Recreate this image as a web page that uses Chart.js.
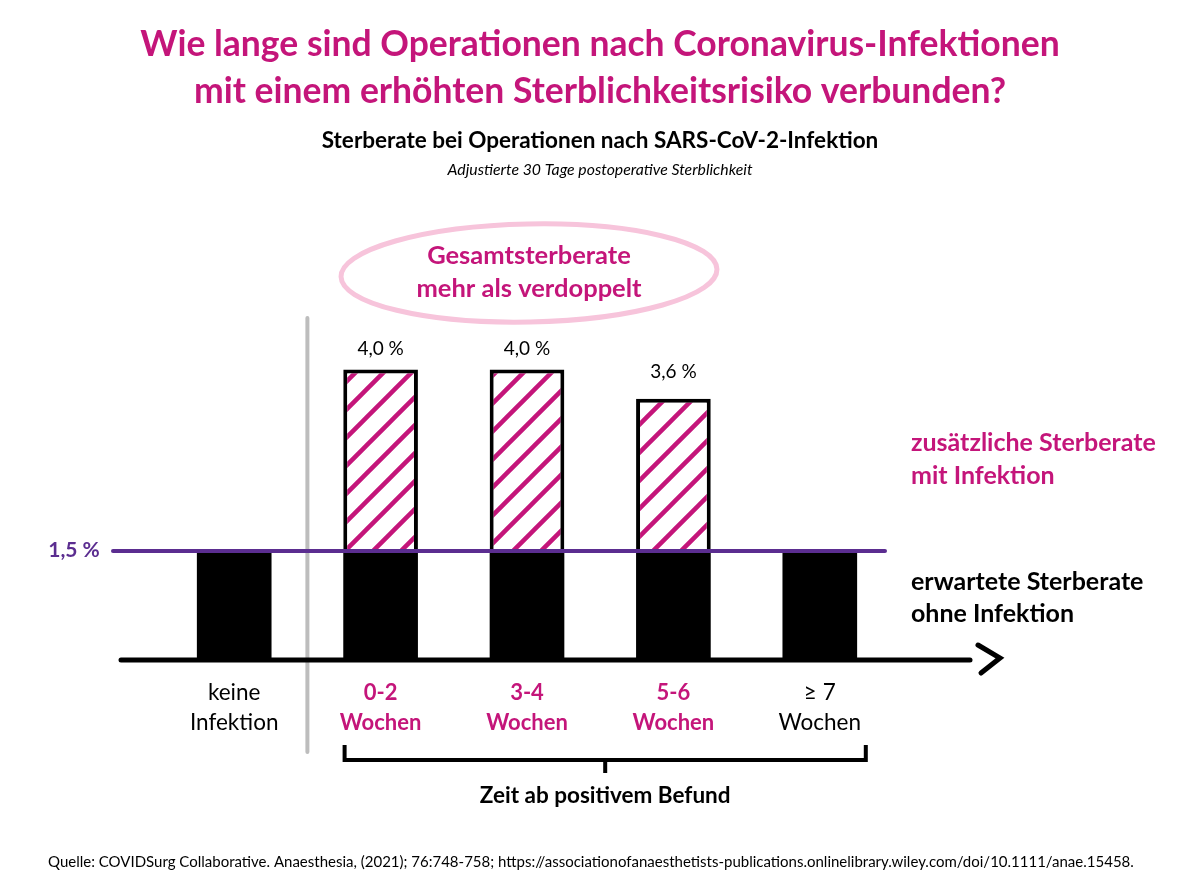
<!DOCTYPE html>
<html lang="de">
<head>
<meta charset="utf-8">
<title>Sterberate bei Operationen nach SARS-CoV-2-Infektion</title>
<script src="https://cdn.jsdelivr.net/npm/chart.js@4.4.1/dist/chart.umd.min.js"></script>
<style>
  html, body { margin: 0; background: #fff; }
  #wrap { width: 1200px; height: 891px; position: relative; }
</style>
</head>
<body>
<div id="wrap"><canvas id="chart"></canvas></div>
<script>
const categories = [['keine', 'Infektion'], ['0-2', 'Wochen'], ['3-4', 'Wochen'], ['5-6', 'Wochen'], ['≥ 7', 'Wochen']]
const highlighted = [false, true, true, true, false]
// erwartete Sterberate ohne Infektion (%)
const expectedRate = [1.5, 1.5, 1.5, 1.5, 1.5]
// zusätzliche Sterberate mit Infektion (%)
const extraRate = [null, 2.5, 2.5, 2.1, null]
const baselineLabel = '1,5 %'

const MAGENTA = '#c4157a'
const PURPLE = '#5b2d90'
const PINK = '#f7c4db'
const FONT = 'Lato, "Open Sans", sans-serif'

function hatch() {
  const c = document.createElement('canvas')
  c.width = 28
  c.height = 28
  const g = c.getContext('2d')
  g.fillStyle = '#fff'
  g.fillRect(0, 0, 28, 28)
  g.strokeStyle = MAGENTA
  g.lineWidth = 4.5
  g.lineCap = 'round'
  g.beginPath()
  g.moveTo(-4, 32); g.lineTo(32, -4)
  g.moveTo(-18, 18); g.lineTo(18, -18)
  g.moveTo(10, 46); g.lineTo(46, 10)
  g.stroke()
  return g.createPattern(c, 'repeat')
}

function pct(v) {
  return v.toFixed(1).replace('.', ',') + ' %'
}

function text(ctx, str, x, y, font, color, align) {
  ctx.font = font
  ctx.fillStyle = color
  ctx.textAlign = align || 'center'
  ctx.textBaseline = 'middle'
  ctx.fillText(str, x, y)
}

const decor = {
  id: 'decor',
  beforeDraw(chart) {
    const { ctx } = chart
    ctx.save()
    ctx.fillStyle = '#fff'
    ctx.fillRect(0, 0, chart.width, chart.height)
    ctx.restore()
  },
  afterDatasetsDraw(chart) {
    const { ctx, chartArea } = chart
    const x = chart.scales.x
    const y = chart.scales.y
    const y0 = y.getPixelForValue(0)
    const yBase = y.getPixelForValue(expectedRate[0])
    ctx.save()
    ctx.lineCap = 'round'

    // grey divider
    const xDiv = (x.getPixelForValue(0) + x.getPixelForValue(1)) / 2
    ctx.strokeStyle = '#bdbdbd'
    ctx.lineWidth = 4
    ctx.beginPath()
    ctx.moveTo(xDiv, 318); ctx.lineTo(xDiv, 752)
    ctx.stroke()

    // expected level line
    ctx.strokeStyle = PURPLE
    ctx.lineWidth = 4
    ctx.beginPath()
    ctx.moveTo(chartArea.left - 48, yBase); ctx.lineTo(chartArea.right - 8, yBase)
    ctx.stroke()
    text(ctx, baselineLabel, chartArea.left - 87, yBase - 1, 'bold 21px ' + FONT, PURPLE)

    // x axis with arrow
    ctx.strokeStyle = '#000'
    ctx.lineWidth = 5
    ctx.beginPath()
    ctx.moveTo(chartArea.left - 40, y0); ctx.lineTo(chartArea.right + 77, y0)
    ctx.stroke()
    ctx.beginPath()
    ctx.moveTo(chartArea.right + 85, y0 - 15)
    ctx.lineTo(chartArea.right + 107, y0 - 2)
    ctx.lineTo(chartArea.right + 88, y0 + 13)
    ctx.stroke()

    // values and category labels
    categories.forEach((lab, i) => {
      const cx = x.getPixelForValue(i)
      if (extraRate[i] != null) {
        const total = expectedRate[i] + extraRate[i]
        const gap = total < 3.8 ? 27 : 21
        text(ctx, pct(total), cx, y.getPixelForValue(total) - gap, '19px ' + FONT, '#000')
      }
      const font = (highlighted[i] ? 'bold 22px ' : '22.5px ') + FONT
      const col = highlighted[i] ? MAGENTA : '#000'
      text(ctx, lab[0], cx, y0 + 33, font, col)
      text(ctx, lab[1], cx, y0 + 63, font, col)
    })

    // bracket under the infection groups
    const bl = x.getPixelForValue(1) - 36
    const br = x.getPixelForValue(4) + 46
    const bm = (bl + br) / 2
    ctx.lineWidth = 4
    ctx.lineCap = 'butt'
    ctx.beginPath()
    ctx.moveTo(bl, 745); ctx.lineTo(bl, 760); ctx.lineTo(br, 760); ctx.lineTo(br, 745)
    ctx.moveTo(bm, 760); ctx.lineTo(bm, 773)
    ctx.stroke()
    text(ctx, 'Zeit ab positivem Befund', bm, 796, 'bold 22.5px ' + FONT, '#000')

    // pink ellipse callout
    ctx.strokeStyle = PINK
    ctx.lineWidth = 5
    ctx.beginPath()
    ctx.ellipse(529, 273, 188, 49, -0.02, 0, Math.PI * 2)
    ctx.stroke()
    text(ctx, 'Gesamtsterberate', 529, 256, 'bold 25.5px ' + FONT, MAGENTA)
    text(ctx, 'mehr als verdoppelt', 529, 289, 'bold 25.5px ' + FONT, MAGENTA)

    // right side legend texts
    text(ctx, 'zusätzliche Sterberate', 911, 443, 'bold 25px ' + FONT, MAGENTA, 'left')
    text(ctx, 'mit Infektion', 911, 476, 'bold 25px ' + FONT, MAGENTA, 'left')
    text(ctx, 'erwartete Sterberate', 911, 582, 'bold 25px ' + FONT, '#000', 'left')
    text(ctx, 'ohne Infektion', 911, 614, 'bold 25px ' + FONT, '#000', 'left')

    // titles and source
    text(ctx, 'Wie lange sind Operationen nach Coronavirus-Infektionen', 600, 45, 'bold 35.5px ' + FONT, MAGENTA)
    text(ctx, 'mit einem erhöhten Sterblichkeitsrisiko verbunden?', 600, 92, 'bold 35.5px ' + FONT, MAGENTA)
    text(ctx, 'Sterberate bei Operationen nach SARS-CoV-2-Infektion', 600, 141, 'bold 22.5px ' + FONT, '#000')
    text(ctx, 'Adjustierte 30 Tage postoperative Sterblichkeit', 600, 170, 'italic 15.8px ' + FONT, '#000')
    text(ctx, 'Quelle: COVIDSurg Collaborative. Anaesthesia, (2021); 76:748-758; https://associationofanaesthetists-publications.onlinelibrary.wiley.com/doi/10.1111/anae.15458.', 48, 862, '15px ' + FONT, '#000', 'left')
    ctx.restore()
  }
}

new Chart(document.querySelector('#chart'), {
  type: 'bar',
  data: {
    labels: categories,
    datasets: [{
      label: 'erwartete Sterberate ohne Infektion',
      data: expectedRate,
      backgroundColor: '#000',
      borderWidth: 0
    }, {
      label: 'zusätzliche Sterberate mit Infektion',
      data: extraRate,
      backgroundColor: hatch(),
      borderColor: '#000',
      borderWidth: 4,
      borderSkipped: 'bottom'
    }]
  },
  options: {
    responsive: true,
    maintainAspectRatio: false,
    animation: false,
    layout: {
      padding: { left: 161, right: 307, top: 297, bottom: 231 }
    },
    datasets: {
      bar: { categoryPercentage: 1, barPercentage: 0.51 }
    },
    scales: {
      x: { display: false, stacked: true },
      y: { display: false, stacked: true, min: 0, max: 5 }
    },
    plugins: {
      legend: { display: false },
      tooltip: { enabled: false }
    }
  },
  plugins: [decor]
})
</script>
</body>
</html>
